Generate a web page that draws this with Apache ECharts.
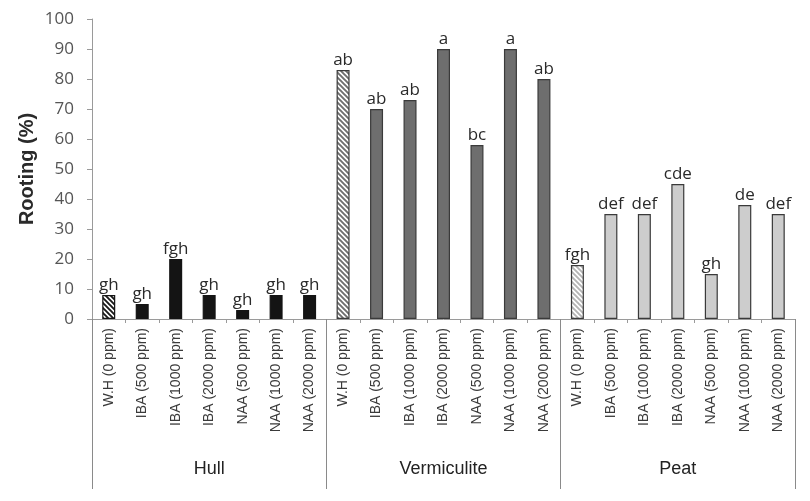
<!DOCTYPE html>
<html>
<head>
<meta charset="utf-8">
<script src="https://cdn.jsdelivr.net/npm/echarts@6/dist/echarts.min.js"></script>
<style>
html,body{margin:0;padding:0;background:#fff;}
#c{width:810px;height:501px;}
</style>
</head>
<body>
<div id="c"></div>
<script>
// ---- data ----
const treatments = ['W.H (0 ppm)','IBA (500 ppm)','IBA (1000 ppm)','IBA (2000 ppm)','NAA (500 ppm)','NAA (1000 ppm)','NAA (2000 ppm)'];
const groups = ['Hull','Vermiculite','Peat'];
const hullValues = [8, 5, 20, 8, 3, 8, 8];
const vermiculiteValues = [83, 70, 73, 90, 58, 90, 80];
const peatValues = [18, 35, 35, 45, 15, 38, 35];
const hullLetters = ['gh','gh','fgh','gh','gh','gh','gh'];
const vermiculiteLetters = ['ab','ab','ab','a','bc','a','ab'];
const peatLetters = ['fgh','def','def','cde','gh','de','def'];
const yTicks = [0,10,20,30,40,50,60,70,80,90,100];

// ---- styles ----
function hatch(bg, stripe){
  const s = 5, c = document.createElement('canvas');
  c.width = s; c.height = s;
  const g = c.getContext('2d');
  g.fillStyle = bg; g.fillRect(0,0,s,s);
  g.strokeStyle = stripe; g.lineWidth = 1.9;
  g.beginPath();
  g.moveTo(-1,-1); g.lineTo(s+1,s+1);
  g.moveTo(-1,s-1); g.lineTo(1,s+1);
  g.moveTo(s-1,-1); g.lineTo(s+1,1);
  g.stroke();
  return c;
}
const groupStyles = [
  {fill:'#141414', border:'#141414', hatchBg:'#ffffff', hatchFg:'#1a1a1a'},
  {fill:'#6e6e6e', border:'#3a3a3a', hatchBg:'#ffffff', hatchFg:'#6e6e6e'},
  {fill:'#cdcdcd', border:'#3a3a3a', hatchBg:'#ffffff', hatchFg:'#b5b5b5'}
];
const allValues = [hullValues, vermiculiteValues, peatValues];
const allLetters = [hullLetters, vermiculiteLetters, peatLetters];

const categories = [];
const barData = [];
groups.forEach((gname, gi) => {
  treatments.forEach((t, ti) => {
    categories.push(t);
    const st = groupStyles[gi];
    const isControl = ti === 0;
    barData.push({
      value: allValues[gi][ti],
      itemStyle: {
        color: isControl ? {image: hatch(st.hatchBg, st.hatchFg), repeat:'repeat'} : st.fill,
        borderColor: st.border,
        borderWidth: 1.2
      },
      label: {formatter: allLetters[gi][ti]}
    });
  });
});

const chart = echarts.init(document.getElementById('c'));
chart.setOption({
  animation: false,
  backgroundColor: '#ffffff',
  grid: {left: 92, right: 15, top: 19, bottom: 182},
  xAxis: [
    {
      type: 'category',
      data: categories,
      axisLine: {lineStyle: {color: '#9a9a9a', width: 1}},
      axisTick: {show: true, length: 4, interval: 0, lineStyle: {color: '#9a9a9a'}},
      axisLabel: {
        interval: 0, rotate: 90, margin: 9,
        fontFamily: 'Liberation Sans', fontSize: 14, color: '#3a3a3a'
      }
    },
    {
      type: 'category',
      data: groups,
      position: 'bottom',
      axisLine: {show: false},
      axisTick: {show: true, length: 170, interval: 0, lineStyle: {color: '#8a8a8a', width: 1}},
      axisLabel: {
        interval: 0, margin: 141,
        fontFamily: 'Liberation Sans', fontSize: 18, color: '#222222'
      }
    }
  ],
  yAxis: {
    type: 'value',
    min: 0, max: 100, interval: 10,
    name: 'Rooting (%)',
    nameLocation: 'middle',
    nameGap: 55,
    nameMoveOverlap: false,
    nameTextStyle: {fontFamily: 'Liberation Sans', fontSize: 20, fontWeight: 'bold', color: '#2a2a2a'},
    axisLine: {show: true, lineStyle: {color: '#9a9a9a'}},
    axisTick: {show: true, length: 5, lineStyle: {color: '#9a9a9a'}},
    splitLine: {show: false},
    axisLabel: {
      margin: 18, fontFamily: 'Open Sans', fontSize: 17, color: '#555555',
      formatter: v => yTicks.includes(v) ? String(v) : ''
    }
  },
  series: [{
    type: 'bar',
    xAxisIndex: 0,
    barWidth: 13,
    data: barData,
    label: {
      show: true, position: 'top', distance: 1,
      fontFamily: 'Open Sans', fontSize: 17, color: '#2a2a2a'
    }
  }]
});
</script>
</body>
</html>
